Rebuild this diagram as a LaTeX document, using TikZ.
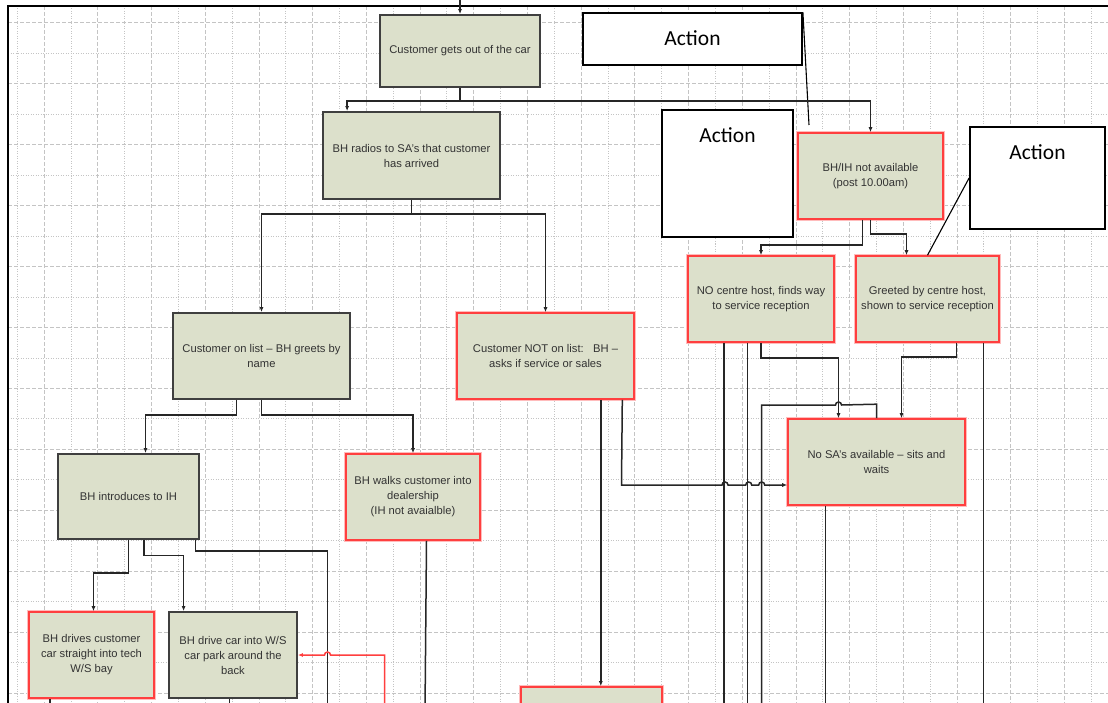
\documentclass[tikz,border=0pt]{standalone}
\usepackage{fontspec}
\setmainfont{Liberation Sans}
\newfontfamily\actionfont{Carlito}
\usetikzlibrary{arrows.meta}
\definecolor{boxfill}{HTML}{DCE0CB}
\definecolor{boxline}{HTML}{3F3F3F}
\definecolor{boxred}{HTML}{FF3F3F}
\definecolor{gridgrey}{HTML}{C4C4C4}
\definecolor{flowline}{HTML}{262626}
\definecolor{textgrey}{HTML}{333333}

\begin{document}
\begin{tikzpicture}[x=1pt, y=-1pt,
    stepbox/.style={draw=boxline, line width=1.8pt, fill=boxfill, text=textgrey, align=center,
        inner sep=0pt, font=\fontsize{11.2}{15}\selectfont},
    redbox/.style={stepbox, draw=boxred, line width=1.6pt, preaction={draw=boxred!35, line width=3.4pt}},
    actionbox/.style={draw=black, line width=1.8pt, fill=white, inner sep=0pt},
    actionlabel/.style={font=\actionfont\fontsize{21.5}{24}\selectfont, inner sep=0pt, anchor=north, yshift=-18.5pt},
    flow/.style={draw=flowline, line width=1.5pt, -{Latex[length=5pt, width=4pt]}},
    wire/.style={draw=flowline, line width=1.5pt},
    redflow/.style={draw=boxred, line width=1.5pt, -{Latex[length=5pt, width=4pt]}},
    callout/.style={draw=black, line width=1.1pt},
    gridmajor/.style={draw=gridgrey, line width=0.9pt, dash pattern=on 4pt off 2pt},
    gridminor/.style={draw=gridgrey, line width=0.9pt, dash pattern=on 1pt off 1.5pt}]
    \useasboundingbox[fill=white] (0, 0) rectangle (1108, 703);

    % grid paper
    \foreach \k in {0,...,40} {
        \pgfmathsetmacro{\gx}{17.3 + 26.85*\k}
        \ifodd\k \draw[gridmajor] (\gx, 6) -- (\gx, 703); \else \draw[gridminor] (\gx, 6) -- (\gx, 703); \fi
    }
    \foreach \k in {0,...,22} {
        \pgfmathsetmacro{\gy}{22.7 + 30.48*\k}
        \ifodd\k \draw[gridminor] (8, \gy) -- (1108, \gy); \else \draw[gridmajor] (8, \gy) -- (1108, \gy); \fi
    }
    \draw[black, line width=1.8pt] (8, 703) -- (8, 6) -- (1108, 6);

    % steps
    \node[stepbox, minimum width=160pt, minimum height=72pt] at (460, 51) (car) {Customer gets out of the car};
    \node[stepbox, minimum width=177pt, minimum height=87pt] at (411.5, 155.5) (radios) {BH radios to SA's that customer\\has arrived};
    \node[redbox, minimum width=145pt, minimum height=86pt] at (870.5, 176) (notavail) {BH/IH not available\\(post 10.00am)};
    \node[redbox, minimum width=146pt, minimum height=86pt] at (761, 299) (nohost) {NO centre host, finds way\\to service reception};
    \node[redbox, minimum width=143pt, minimum height=86pt] at (927.5, 299) (greeted) {Greeted by centre host,\\shown to service reception};
    \node[stepbox, minimum width=177pt, minimum height=86pt] at (261.5, 356) (onlist) {Customer on list – BH greets by\\name};
    \node[redbox, minimum width=177pt, minimum height=86pt] at (545.5, 356) (notlist) {Customer NOT on list:\ \ \ BH –\\asks if service or sales};
    \node[stepbox, minimum width=141pt, minimum height=85pt] at (128.5, 496.5) (intro) {BH introduces to IH};
    \node[redbox, minimum width=134pt, minimum height=86pt] at (413, 497) (walks) {BH walks customer into\\dealership\\(IH not avaialble)};
    \node[redbox, minimum width=125pt, minimum height=86pt] at (91.5, 655) (drives) {BH drives customer\\car straight into tech\\W/S bay};
    \node[stepbox, minimum width=128pt, minimum height=86pt] at (233, 655) (carpark) {BH drive car into W/S\\car park around the\\back};
    \node[redbox, minimum width=177pt, minimum height=86pt] at (876.5, 462) (nosa) {No SA's available – sits and\\waits};
    \node[redbox, minimum width=141pt, minimum height=86pt] at (591.5, 730) (nextstep) {};

    % action callouts
    \node[actionbox, minimum width=219pt, minimum height=52pt] at (692.5, 39) (acttop) {};
    \node[actionlabel] at (acttop.north) (acttoptext) {Action};
    \node[actionbox, minimum width=131pt, minimum height=127pt] at (727.5, 173.5) (actmid) {};
    \node[actionlabel] at (actmid.north) (actmidtext) {Action};
    \node[actionbox, minimum width=135pt, minimum height=102pt] at (1037.5, 178) (actright) {};
    \node[actionlabel] at (actright.north) (actrighttext) {Action};
    \coordinate (calloutend) at (809, 125);
    \draw[callout] (acttop.north east) -- (calloutend);
    \draw[callout] (actright.west) -- (greeted.north);

    % connectors
    \coordinate (entry) at (460, 0);
    \coordinate (bottomedge) at (0, 712);
    \draw[flow] (entry) -- (car.north);
    \draw[flow] (car.south) -- ++(0, 13) coordinate (split1) -| ([xshift=25pt]radios.north west);
    \draw[flow] (split1) -| (notavail.north);
    \draw[flow] (radios.south) -- ++(0, 14) coordinate (split2) -| (onlist.north);
    \draw[flow] (split2) -| (notlist.north);

    \draw[flow] ([xshift=-8pt]notavail.south) -- ++(0, 25) -| (nohost.north);
    \draw[flow] (notavail.south) -- ++(0, 14) -| ([xshift=-21pt]greeted.north);

    \draw[flow] ([xshift=-25pt]onlist.south) -- ++(0, 15) -| ([xshift=17pt]intro.north);
    \draw[flow] (onlist.south) -- ++(0, 15) -| (walks.north);

    \draw[flow] (intro.south) -- ++(0, 33) -| ([xshift=2pt]drives.north);
    \draw[flow] ([xshift=15.5pt]intro.south) -- ++(0, 15.5) -| ([xshift=15.5pt]carpark.north west);
    \coordinate (introtail) at (327.5, 712);
    \draw[wire] ([xshift=-4.5pt]intro.south east) -- ++(0, 11) -| (introtail);
    \coordinate (redtail) at (384.6, 712);
    \draw[redflow] (redtail) -- (384.6, 655) -- (330.5, 655) arc[start angle=0, end angle=180, radius=3pt] -- (carpark.east);
    \coordinate (drivesout) at ([xshift=-41.5pt]drives.south);
    \draw[wire] (drivesout) -- (drivesout |- bottomedge);
    \coordinate (carparkout) at ([xshift=-3.5pt]carpark.south);
    \draw[wire] (carparkout) -- (carparkout |- bottomedge);
    \coordinate (walksout) at ([xshift=13.5pt]walks.south);
    \draw[wire] (walksout) -- ([xshift=-1.5pt]walksout |- bottomedge);

    \coordinate (notlistA) at ([xshift=-34pt]notlist.south east);
    \draw[flow] (notlistA) -- (notlistA |- nextstep.north);
    \draw[flow] ([xshift=-12.5pt]notlist.south east) -- (621.5, 485) -- (722, 485)
        arc[start angle=180, end angle=0, radius=3pt] -- (745.7, 485)
        arc[start angle=180, end angle=0, radius=3pt] -- (758.7, 485)
        arc[start angle=180, end angle=0, radius=3pt] -- ([yshift=-23pt]nosa.west);

    \coordinate (nohostA) at ([xshift=37pt]nohost.south west);
    \draw[wire] (nohostA) -- (nohostA |- bottomedge);
    \coordinate (nohostB) at ([xshift=60.5pt]nohost.south west);
    \draw[wire] (nohostB) -- (nohostB |- bottomedge);
    \draw[flow] (nohost.south) -- ++(0, 15) -| ([xshift=-38pt]nosa.north);
    \coordinate (nosaloop) at (761.7, 712);
    \draw[wire] (nosa.north) -- ++(0, -14) -- (841.5, 405)
        arc[start angle=0, end angle=180, radius=3pt] -- (761.7, 405) -- (nosaloop);

    \draw[flow] ([xshift=29pt]greeted.south) -- ++(0, 14) -| ([xshift=25pt]nosa.north);
    \coordinate (greetedout) at ([xshift=56pt]greeted.south);
    \draw[wire] (greetedout) -- (greetedout |- bottomedge);
    \coordinate (nosaout) at ([xshift=-51pt]nosa.south);
    \draw[wire] (nosaout) -- (nosaout |- bottomedge);
\end{tikzpicture}
\end{document}
